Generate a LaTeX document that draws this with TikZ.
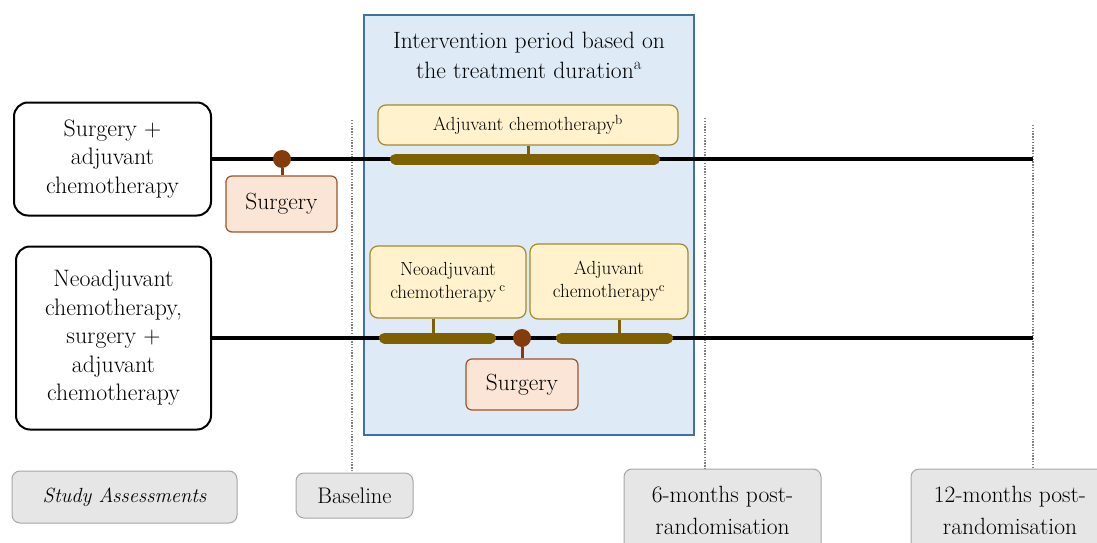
\documentclass[tikz,border=0pt]{standalone}
\usepackage{fontspec}
\definecolor{bluefill}{HTML}{DEEBF7}
\definecolor{blueline}{HTML}{41719C}
\definecolor{yelfill}{HTML}{FFF2CC}
\definecolor{yelline}{HTML}{A38A2A}
\definecolor{barcol}{HTML}{7F6000}
\definecolor{brown}{HTML}{843C0C}
\definecolor{surgfill}{HTML}{FBE5D6}
\definecolor{surgline}{HTML}{A0522D}
\definecolor{grayfill}{HTML}{E6E6E6}
\definecolor{grayline}{HTML}{A6A6A6}
\tikzset{
  armbox/.style={draw=black,line width=2pt,rounded corners=14pt,fill=white,align=center,inner sep=0pt,font=\fontsize{23.8}{28.5}\selectfont},
  chemobox/.style={draw=yelline,line width=1.2pt,rounded corners=8pt,fill=yelfill,align=center,inner sep=0pt,font=\fontsize{19}{23}\selectfont},
  surgbox/.style={draw=surgline,line width=1.2pt,rounded corners=6pt,fill=surgfill,align=center,inner sep=0pt,font=\fontsize{23.4}{26}\selectfont},
  assessbox/.style={draw=grayline,line width=1pt,rounded corners=8pt,fill=grayfill,align=center,inner sep=0pt,font=\fontsize{23.5}{32}\selectfont},
  timeline/.style={line width=4pt,black},
  barline/.style={line width=11pt,barcol,line cap=round},
  stem/.style={line width=3pt,barcol},
  surgstem/.style={line width=3pt,brown},
  dot/.style={circle,fill=brown,inner sep=0pt,minimum size=18pt},
  vdots/.style={line width=1.5pt,black!50,dash pattern=on 1.4pt off 1.4pt},
}
\begin{document}
\begin{tikzpicture}[x=1pt,y=-1pt]
\useasboundingbox (0,0) rectangle (1097,543);
\clip (0,0) rectangle (1097,543);
% intervention period
\node[draw=blueline,line width=1.3pt,fill=bluefill,minimum width=330pt,minimum height=420pt,inner sep=0pt] (period) at (529,225) {};
\node[align=center,font=\fontsize{23.6}{30}\selectfont] (title) at (529,55) {Intervention period based on\\the treatment duration\textsuperscript{a}};
% dotted assessment lines
\coordinate (d1a) at (352,120); \coordinate (d1b) at (352,473);
\coordinate (d2a) at (705,118); \coordinate (d2b) at (705,469);
\coordinate (d3a) at (1033,125); \coordinate (d3b) at (1033,469);
\draw[vdots] (d1a) -- (d1b);
\draw[vdots] (d2a) -- (d2b);
\draw[vdots] (d3a) -- (d3b);
% arms
\node[armbox,minimum width=197pt,minimum height=113pt] (arm1) at (112.5,159) {Surgery +\\adjuvant\\chemotherapy};
\node[armbox,minimum width=195pt,minimum height=183pt] (arm2) at (113.5,338) {Neoadjuvant\\chemotherapy,\\surgery +\\adjuvant\\chemotherapy};
\coordinate (e1) at (1033,159);
\coordinate (e2) at (1033,338);
\draw[timeline] (arm1.east) -- (e1);
\draw[timeline] (arm2.east) -- (e2);
% arm 1 treatment
\node[chemobox,minimum width=300pt,minimum height=40pt] (adj1) at (528,125) {Adjuvant chemotherapy\textsuperscript{b}};
\coordinate (b1s) at (395.5,159); \coordinate (b1e) at (654.5,159);
\draw[barline] (b1s) -- (b1e);
\draw[stem] (adj1.south) -- (adj1.south |- b1s);
\node[surgbox,minimum width=111pt,minimum height=56pt] (surg1) at (281.5,204) {Surgery};
\node[dot] (dot1) at (282,159) {};
\draw[surgstem] (dot1) -- (dot1 |- surg1.north);
% arm 2 treatment
\node[chemobox,minimum width=156pt,minimum height=72pt] (neo) at (448,282) {Neoadjuvant\\chemotherapy\,\textsuperscript{c}};
\node[chemobox,minimum width=158pt,minimum height=75pt] (adj2) at (609,281.5) {Adjuvant\\chemotherapy\textsuperscript{c}};
\coordinate (b2s) at (384.5,338); \coordinate (b2e) at (490.5,338);
\coordinate (b3s) at (561.5,338); \coordinate (b3e) at (667.5,338);
\draw[barline] (b2s) -- (b2e);
\draw[barline] (b3s) -- (b3e);
\draw[stem] ([xshift=-15pt]neo.south) -- ([xshift=-15pt]neo.south |- b2s);
\draw[stem] ([xshift=10pt]adj2.south) -- ([xshift=10pt]adj2.south |- b3s);
\node[surgbox,minimum width=112pt,minimum height=51pt] (surg2) at (522,384.5) {Surgery};
\node[dot] (dot2) at (522,338) {};
\draw[surgstem] (dot2) -- (surg2.north);
% assessments
\node[assessbox,minimum width=225pt,minimum height=52pt] (study) at (124.5,497) {\fontsize{20.5}{24}\selectfont\itshape Study Assessments};
\node[assessbox,minimum width=117pt,minimum height=45pt] (base) at (354.5,495.5) {\fontsize{22.5}{26}\selectfont Baseline};
\node[assessbox,minimum width=197pt,minimum height=82pt] (six) at (722.5,510) {6-months post-\\randomisation};
\node[assessbox,minimum width=198pt,minimum height=82pt] (twelve) at (1010,510) {12-months post-\\randomisation};
\end{tikzpicture}
\end{document}
